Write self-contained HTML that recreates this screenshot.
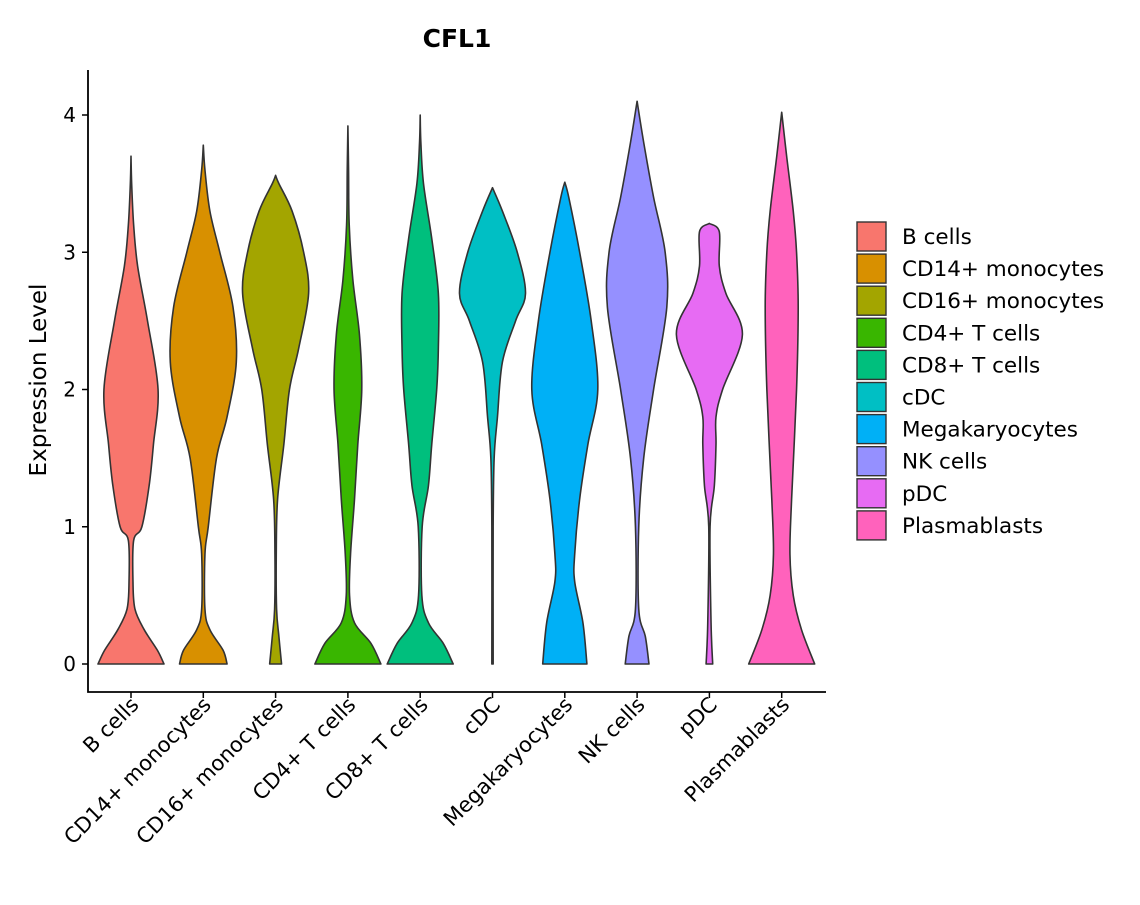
<!DOCTYPE html>
<html><head><meta charset="utf-8"><style>
body{margin:0;background:#fff}
svg text{font-family:"DejaVu Sans","Liberation Sans",sans-serif}
</style></head><body>
<svg id="chart" width="1140" height="900" viewBox="0 0 1140 900">
<text x="457" y="47" text-anchor="middle" font-size="25" font-weight="bold" fill="#000">CFL1</text>
<text transform="translate(46,380) rotate(-90)" text-anchor="middle" font-size="23" fill="#000">Expression Level</text>
<g id="plot"></g>
<g id="legend"></g>
</svg>
<script>
const categories=["B cells","CD14+ monocytes","CD16+ monocytes","CD4+ T cells","CD8+ T cells","cDC","Megakaryocytes","NK cells","pDC","Plasmablasts"];
const colors=["#F8766D","#D89000","#A3A500","#39B600","#00BF7D","#00BFC4","#00B0F6","#9590FF","#E76BF3","#FF62BC"];
const yTicks=[0,1,2,3,4];
// density profiles: [expression value, relative half-width]
const dens0=[[0,1],[0.1,0.8],[0.25,0.4],[0.4,0.12],[0.6,0.06],[0.9,0.08],[1.0,0.33],[1.3,0.55],[1.6,0.68],[2.0,0.82],[2.5,0.5],[2.9,0.2],[3.2,0.08],[3.5,0.02],[3.7,0]];
const dens1=[[0,0.72],[0.1,0.6],[0.25,0.2],[0.4,0.05],[0.8,0.05],[1.0,0.15],[1.5,0.4],[1.8,0.72],[2.2,1.0],[2.6,0.9],[3.0,0.5],[3.3,0.2],[3.6,0.05],[3.78,0]];
const dens2=[[0,0.18],[0.2,0.1],[0.4,0.03],[0.8,0.02],[1.2,0.06],[1.6,0.25],[2.0,0.42],[2.3,0.7],[2.7,1.0],[3.0,0.85],[3.3,0.5],[3.5,0.1],[3.56,0]];
const dens3=[[0,1],[0.15,0.7],[0.3,0.2],[0.5,0.05],[0.8,0.08],[1.2,0.2],[1.6,0.3],[2.0,0.42],[2.4,0.35],[2.8,0.15],[3.2,0.04],[3.6,0.02],[3.92,0]];
const dens4=[[0,1],[0.15,0.7],[0.3,0.25],[0.5,0.05],[1.0,0.06],[1.3,0.25],[1.6,0.35],[2.0,0.5],[2.3,0.55],[2.7,0.55],[3.1,0.35],[3.5,0.1],[3.8,0.02],[4.0,0]];
const dens5=[[0,0.02],[1.0,0.02],[1.5,0.05],[1.8,0.15],[2.2,0.3],[2.5,0.7],[2.7,1.0],[3.0,0.75],[3.3,0.3],[3.47,0]];
const dens6=[[0,0.67],[0.3,0.55],[0.6,0.3],[0.8,0.3],[1.2,0.45],[1.6,0.7],[2.0,1.0],[2.5,0.8],[3.0,0.45],[3.4,0.12],[3.51,0]];
const dens7=[[0,0.36],[0.2,0.25],[0.4,0.05],[1.0,0.05],[1.5,0.2],[2.0,0.5],[2.6,0.9],[3.0,0.85],[3.4,0.5],[3.8,0.2],[4.1,0]];
const dens8=[[0,0.1],[0.3,0.05],[1.0,0.02],[1.3,0.15],[1.6,0.2],[1.8,0.2],[2.0,0.4],[2.4,1.0],[2.7,0.5],[2.9,0.3],[3.15,0.3],[3.21,0]];
const dens9=[[0,1],[0.25,0.6],[0.5,0.35],[0.8,0.25],[1.2,0.3],[2.0,0.45],[2.6,0.5],[3.0,0.45],[3.3,0.35],[3.7,0.15],[4.02,0]];
const densities=[dens0,dens1,dens2,dens3,dens4,dens5,dens6,dens7,dens8,dens9];

const NS="http://www.w3.org/2000/svg";
const X0=88,X1=826,Y0=692,Ytop=70;
const yScale=v=>664-v*137.25;
const xScale=i=>131+i*72.3;
const HALF=33;
const plot=document.getElementById('plot');
function mk(t,a){const e=document.createElementNS(NS,t);for(const k in a)e.setAttribute(k,a[k]);return e;}
function smooth(pts){
  let d="M"+pts[0][0]+","+pts[0][1];
  for(let i=0;i<pts.length-1;i++){
    const p0=pts[Math.max(0,i-1)],p1=pts[i],p2=pts[i+1],p3=pts[Math.min(pts.length-1,i+2)];
    const c1=[p1[0]+(p2[0]-p0[0])/6,p1[1]+(p2[1]-p0[1])/6];
    const c2=[p2[0]-(p3[0]-p1[0])/6,p2[1]-(p3[1]-p1[1])/6];
    d+=" C"+c1[0].toFixed(2)+","+c1[1].toFixed(2)+" "+c2[0].toFixed(2)+","+c2[1].toFixed(2)+" "+p2[0].toFixed(2)+","+p2[1].toFixed(2);
  }
  return d;
}
categories.forEach((c,i)=>{
  const cx=xScale(i),den=densities[i];
  const right=den.map(p=>[cx+Math.max(p[1],0.012)*HALF,yScale(p[0])]);
  const left=den.slice().reverse().map(p=>[cx-Math.max(p[1],0.012)*HALF,yScale(p[0])]);
  const top=right[right.length-1];
  right[right.length-1]=[cx,top[1]];left[0]=[cx,top[1]];
  let d=smooth(right)+" "+smooth(left).replace("M","L")+" Z";
  const p=mk('path',{d:d,fill:colors[i],stroke:"#333",'stroke-width':1.6,'stroke-linejoin':'round'});
  
  
  plot.appendChild(p);
  const t=mk('line',{x1:cx,x2:cx,y1:Y0,y2:Y0+6,stroke:"#000",'stroke-width':1.5});
  
  
  plot.appendChild(t);
  const lb=mk('text',{transform:`translate(${cx+9},${Y0+14}) rotate(-45)`,'text-anchor':'end','font-size':21,fill:'#000'});
  lb.textContent=c;
  
  
  plot.appendChild(lb);
});
yTicks.forEach(v=>{
  const y=yScale(v);
  const t=mk('line',{x1:X0-6,x2:X0,y1:y,y2:y,stroke:"#000",'stroke-width':1.5});
  
  
  plot.appendChild(t);
  const lb=mk('text',{x:X0-12,y:y+7,'text-anchor':'end','font-size':20,fill:'#000'});
  lb.textContent=v;
  
  
  plot.appendChild(lb);
});
const ax=mk('path',{d:`M${X0},${Ytop} L${X0},${Y0} L${X1},${Y0}`,fill:'none',stroke:'#000','stroke-width':1.8});


plot.appendChild(ax);
const lg=document.getElementById('legend');
categories.forEach((c,i)=>{
  const y=222+i*32.1;
  const r=mk('rect',{x:857,y:y,width:29,height:29,fill:colors[i],stroke:'#333','stroke-width':1.4});
  
  
  lg.appendChild(r);
  const t=mk('text',{x:902,y:y+22,'font-size':21.5,fill:'#000'});
  t.textContent=c;
  
  
  lg.appendChild(t);
});
</script>
</body></html>
